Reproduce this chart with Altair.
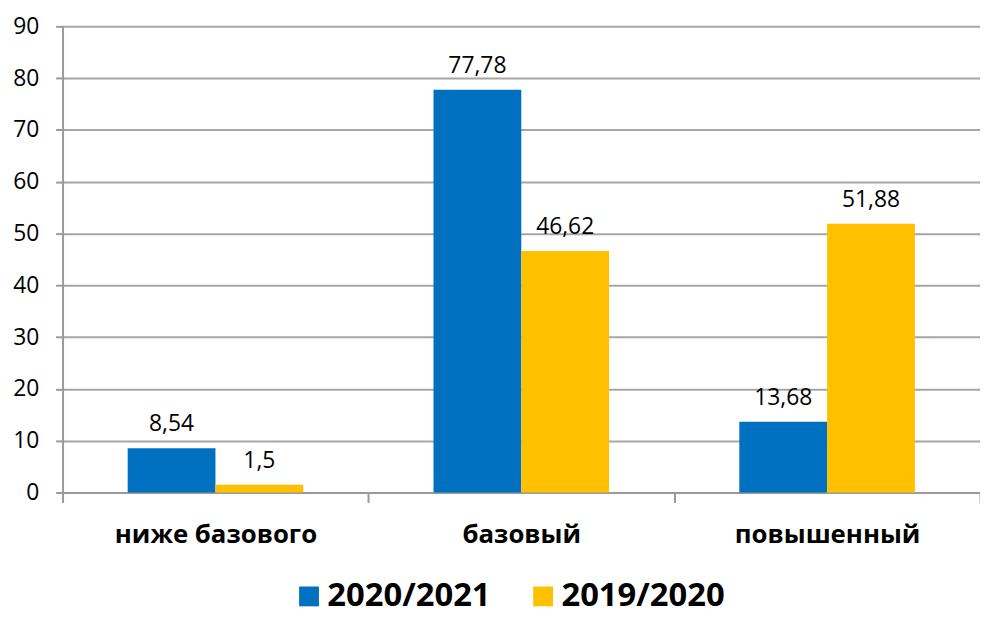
import altair as alt
import pandas as pd

categories = ["ниже базового", "базовый", "повышенный"]
series = ["2020/2021", "2019/2020"]
values_2021 = [8.54, 77.78, 13.68]
values_2020 = [1.5, 46.62, 51.88]
colors = ["#0070C0", "#FFC000"]

rows = []
for c, v1, v2 in zip(categories, values_2021, values_2020):
    rows.append({"cat": c, "series": series[0], "value": v1, "label": f"{v1:g}".replace(".", ",")})
    rows.append({"cat": c, "series": series[1], "value": v2, "label": f"{v2:g}".replace(".", ",")})
df = pd.DataFrame(rows)

FONT = "Open Sans"

x = alt.X("cat:N", sort=categories, title=None,
          scale=alt.Scale(paddingInner=0, paddingOuter=0),
          axis=alt.Axis(tickBand="extent", labelAngle=0, labelFont=FONT, labelFontSize=26,
                        labelFontWeight="bold", labelColor="#000000", tickSize=10,
                        labelPadding=19, labelLimit=400, domainColor="#9A9A9A", domainWidth=2,
                        tickColor="#9A9A9A", tickWidth=2, grid=False))
xo = alt.XOffset("series:N", sort=series,
                 scale=alt.Scale(paddingOuter=0.742, paddingInner=0))
y = alt.Y("value:Q", title=None,
          scale=alt.Scale(domain=[0, 90], nice=False),
          axis=alt.Axis(values=list(range(0, 100, 10)), labelFont=FONT, labelFontSize=23,
                        labelColor="#000000", tickSize=7, labelPadding=17,
                        domainColor="#9A9A9A", domainWidth=2, tickColor="#9A9A9A",
                        tickWidth=2, grid=True, gridColor="#A6A6A6", gridWidth=2))

bars = alt.Chart(df).mark_bar().encode(
    x=x, xOffset=xo, y=y,
    color=alt.Color("series:N", sort=series, title=None,
                    scale=alt.Scale(domain=series, range=colors),
                    legend=alt.Legend(orient="none", legendX=232, legendY=558,
                                      direction="horizontal", symbolType="square",
                                      symbolSize=400, symbolStrokeWidth=0,
                                      labelFont=FONT, labelFontSize=33, labelFontWeight="bold",
                                      labelColor="#000000", labelOffset=2, columnPadding=36,
                                      padding=0, labelLimit=400)),
)

text = alt.Chart(df).mark_text(font=FONT, fontSize=23, color="#000000",
                               baseline="alphabetic", dy=-17).encode(
    x=alt.X("cat:N", sort=categories), xOffset=alt.XOffset("series:N", sort=series),
    y="value:Q", text="label:N")

chart = alt.layer(bars, text).properties(
    width=925, height=470,
    autosize=alt.AutoSizeParams(type="none"),
    padding={"left": 55, "top": 16, "right": 0, "bottom": 123},
).configure_view(stroke=None)

chart.save("out.html", embed_options={"renderer": "svg", "actions": False})
